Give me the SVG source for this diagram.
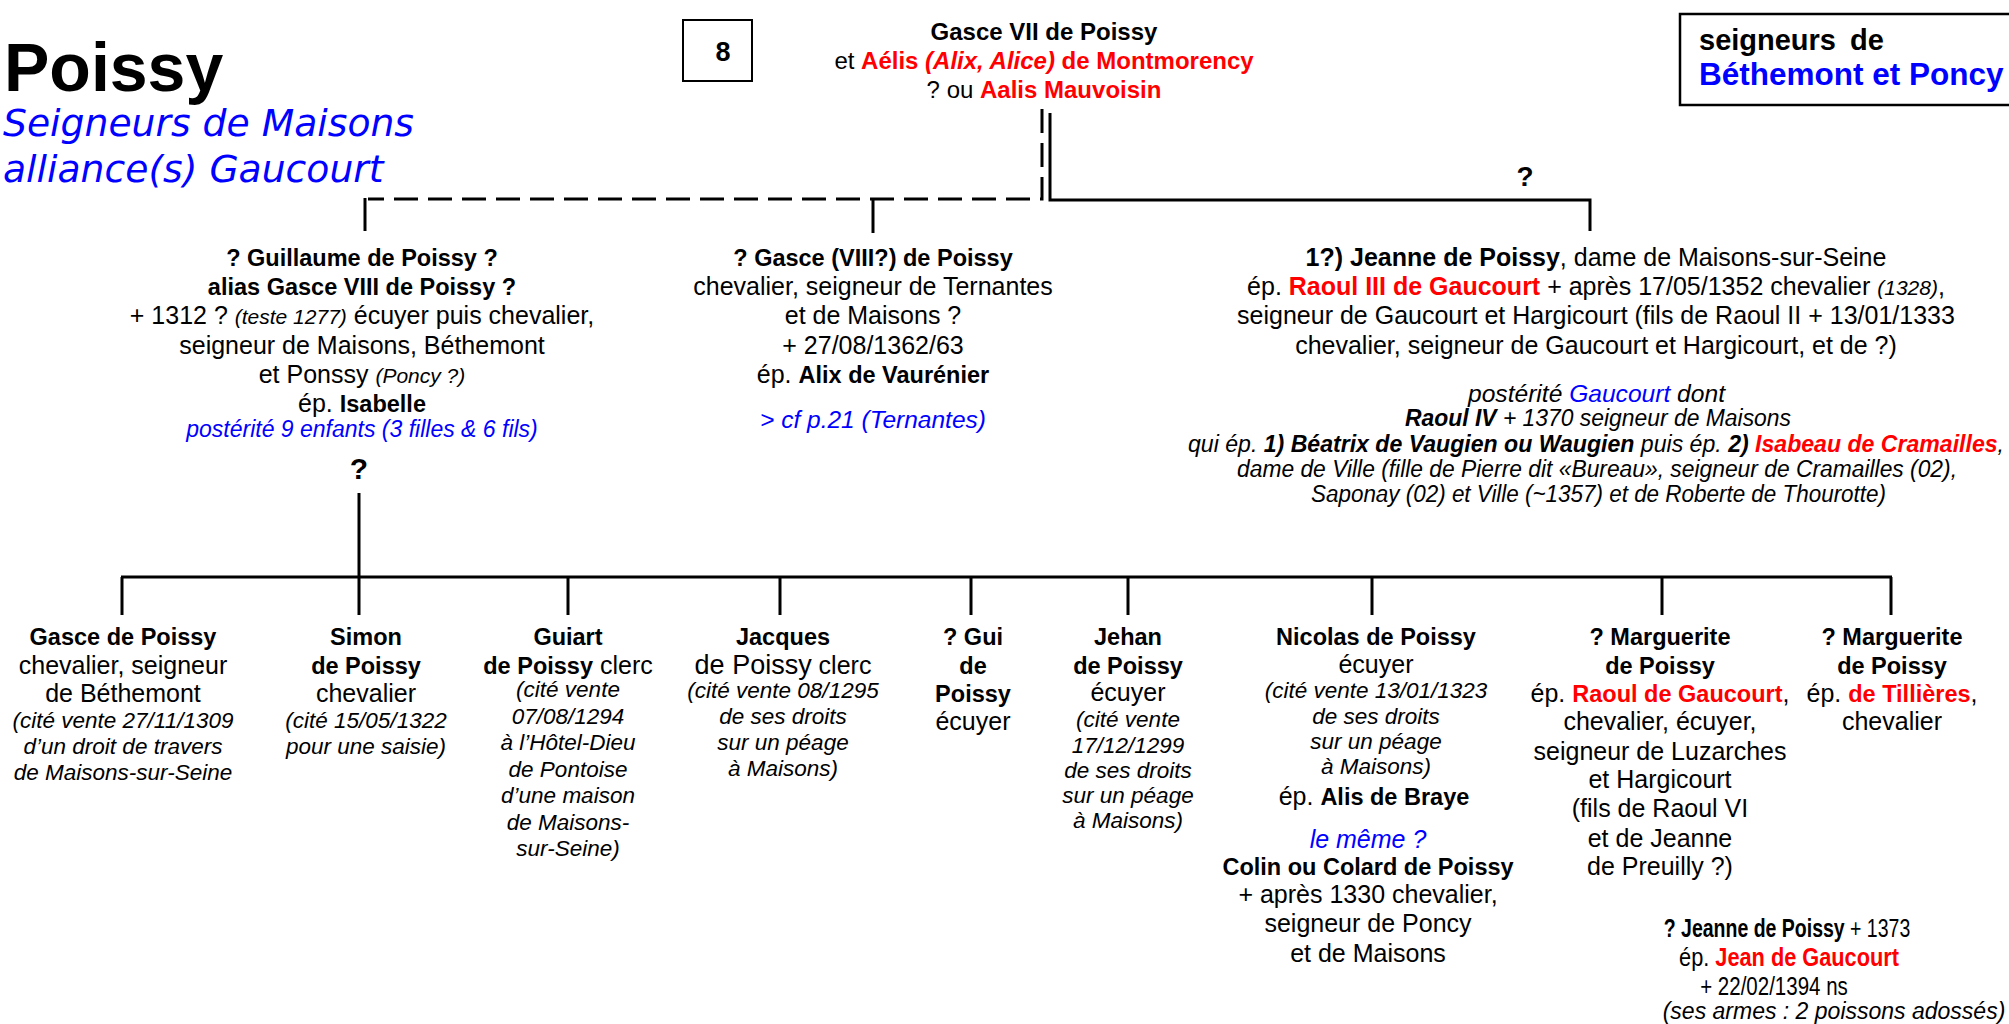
<svg xmlns="http://www.w3.org/2000/svg" width="2009" height="1024" viewBox="0 0 2009 1024">
<style>
.t{font-family:"Liberation Sans",Arial,sans-serif;font-size:25px;fill:#000;text-anchor:middle}
.b{font-weight:bold;font-size:23.5px}
.bj{font-weight:bold}
.i{font-style:italic}
.s{font-size:22.5px}
.si{font-size:21px}
.r{fill:#f00}
.bl{fill:#00f}
.ln{fill:none;stroke:#000;stroke-width:3}
.dash{stroke-dasharray:24 10}
.box{fill:#fff;stroke:#000;stroke-width:2}
.sub{font-family:"DejaVu Sans",Verdana,sans-serif;font-style:italic;font-size:37.7px;fill:#00f}
</style>
<rect width="2009" height="1024" fill="#fff"/>

<g id="title">
<text x="4" y="91" style="font-family:'Liberation Sans',Arial,sans-serif;font-weight:bold;font-size:68px">Poissy</text>
<text class="sub" x="3" y="136">Seigneurs de Maisons</text>
<text class="sub" x="3" y="182">alliance(s) Gaucourt</text>
</g>

<g id="page-number">
<rect class="box" x="683" y="20" width="69" height="61"/>
<text class="t bj" x="723" y="61" style="font-size:27px">8</text>
</g>

<g id="legend-box">
<rect class="box" x="1680" y="14" width="360" height="91" style="stroke-width:2.5"/>
<text class="t bj" x="1699" y="50" style="text-anchor:start;font-size:29px">seigneurs <tspan dx="6">de</tspan></text>
<text class="t bj bl" x="1699" y="85" style="text-anchor:start;font-size:31.5px">Béthemont et Poncy</text>
</g>

<g id="connectors">
<path class="ln dash" d="M1042,109 V199 H368"/>
<path class="ln" d="M365,198 V231"/>
<path class="ln" d="M873,199 V233"/>
<path class="ln" d="M1050,113 V200 H1590 V231"/>
<path class="ln" d="M359,493 V577"/>
<path class="ln" d="M121,577 H1892"/>
<path class="ln" d="M122,577 V615 M359,577 V615 M568,577 V615 M780,577 V615 M971,577 V615 M1128,577 V615 M1372,577 V615 M1662,577 V615 M1891,577 V615"/>
<text class="t bj" x="1525" y="186" style="font-size:28px">?</text>
<text class="t bj" x="359" y="479" style="font-size:30px">?</text>
</g>

<g id="n-gasce7" style="font-size:24px">
<text class="t bj" x="1044" y="40" style="font-size:24px">Gasce VII de Poissy</text>
<text class="t" x="1044" y="69" style="font-size:24px">et <tspan class="bj r">Aélis <tspan class="i">(Alix, Alice)</tspan> de Montmorency</tspan></text>
<text class="t" x="1044" y="98" style="font-size:24px">? ou <tspan class="bj r">Aalis Mauvoisin</tspan></text>
</g>

<g id="n-guillaume">
<text class="t b" x="362" y="266">? Guillaume de Poissy ?</text>
<text class="t b" x="362" y="295">alias Gasce VIII de Poissy ?</text>
<text class="t" x="362" y="324">+ 1312 ? <tspan class="i si">(teste 1277)</tspan> écuyer puis chevalier,</text>
<text class="t" x="362" y="354">seigneur de Maisons, Béthemont</text>
<text class="t" x="362" y="383">et Ponssy <tspan class="i si">(Poncy ?)</tspan></text>
<text class="t" x="362" y="412">ép. <tspan class="b">Isabelle</tspan></text>
<text class="t i bl" x="362" y="437" style="font-size:23px">postérité 9 enfants (3 filles &amp; 6 fils)</text>
</g>

<g id="n-gasce8">
<text class="t b" x="873" y="266">? Gasce (VIII?) de Poissy</text>
<text class="t" x="873" y="295">chevalier, seigneur de Ternantes</text>
<text class="t" x="873" y="324">et de Maisons ?</text>
<text class="t" x="873" y="354">+ 27/08/1362/63</text>
<text class="t" x="873" y="383">ép. <tspan class="b">Alix de Vaurénier</tspan></text>
<text class="t i bl" x="873" y="428" style="font-size:24.5px">&gt; cf p.21 (Ternantes)</text>
</g>

<g id="n-jeanne">
<text class="t" x="1596" y="266"><tspan class="bj">1?) Jeanne de Poissy</tspan>, dame de Maisons-sur-Seine</text>
<text class="t" x="1596" y="295">ép. <tspan class="bj r">Raoul III de Gaucourt</tspan> + après 17/05/1352 chevalier <tspan class="i si">(1328)</tspan>,</text>
<text class="t" x="1596" y="324">seigneur de Gaucourt et Hargicourt (fils de Raoul II + 13/01/1333</text>
<text class="t" x="1596" y="354">chevalier, seigneur de Gaucourt et Hargicourt, et de ?)</text>
<text class="t i" x="1468" y="402" style="text-anchor:start;font-size:24px" textLength="257" lengthAdjust="spacingAndGlyphs">postérité <tspan class="bl">Gaucourt</tspan> dont</text>
<text class="t i" x="1405" y="426" style="text-anchor:start;font-size:23px" textLength="386" lengthAdjust="spacingAndGlyphs"><tspan class="bj">Raoul IV</tspan> + 1370 seigneur de Maisons</text>
<text class="t i" x="1188" y="452" style="text-anchor:start;font-size:23px" textLength="816" lengthAdjust="spacingAndGlyphs">qui ép. <tspan class="bj">1) Béatrix de Vaugien ou Waugien</tspan> puis ép. <tspan class="bj">2) <tspan class="r">Isabeau de Cramailles</tspan></tspan>,</text>
<text class="t i" x="1237" y="477" style="text-anchor:start;font-size:23px" textLength="720" lengthAdjust="spacingAndGlyphs">dame de Ville (fille de Pierre dit «Bureau», seigneur de Cramailles (02),</text>
<text class="t i" x="1311" y="502" style="text-anchor:start;font-size:23px" textLength="575" lengthAdjust="spacingAndGlyphs">Saponay (02) et Ville (~1357) et de Roberte de Thourotte)</text>
</g>

<g id="c-gasce">
<text class="t b" x="123" y="645">Gasce de Poissy</text>
<text class="t" x="123" y="674">chevalier, seigneur</text>
<text class="t" x="123" y="702">de Béthemont</text>
<text class="t i s" x="123" y="728">(cité vente 27/11/1309</text>
<text class="t i s" x="123" y="754">d’un droit de travers</text>
<text class="t i s" x="123" y="780">de Maisons-sur-Seine</text>
</g>

<g id="c-simon">
<text class="t b" x="366" y="645">Simon</text>
<text class="t b" x="366" y="674">de Poissy</text>
<text class="t" x="366" y="702">chevalier</text>
<text class="t i s" x="366" y="728">(cité 15/05/1322</text>
<text class="t i s" x="366" y="754">pour une saisie)</text>
</g>

<g id="c-guiart">
<text class="t b" x="568" y="645">Guiart</text>
<text class="t" x="568" y="674"><tspan class="b">de Poissy</tspan> clerc</text>
<text class="t i s" x="568" y="697">(cité vente</text>
<text class="t i s" x="568" y="724">07/08/1294</text>
<text class="t i s" x="568" y="750">à l’Hôtel-Dieu</text>
<text class="t i s" x="568" y="777">de Pontoise</text>
<text class="t i s" x="568" y="803">d’une maison</text>
<text class="t i s" x="568" y="830">de Maisons-</text>
<text class="t i s" x="568" y="856">sur-Seine)</text>
</g>

<g id="c-jacques">
<text class="t b" x="783" y="645">Jacques</text>
<text class="t" x="783" y="674"><tspan style="font-size:27px">de Poissy</tspan> clerc</text>
<text class="t i s" x="783" y="698">(cité vente 08/1295</text>
<text class="t i s" x="783" y="724">de ses droits</text>
<text class="t i s" x="783" y="750">sur un péage</text>
<text class="t i s" x="783" y="776">à Maisons)</text>
</g>

<g id="c-gui">
<text class="t b" x="973" y="645">? Gui</text>
<text class="t b" x="973" y="674">de</text>
<text class="t b" x="973" y="702">Poissy</text>
<text class="t" x="973" y="730">écuyer</text>
</g>

<g id="c-jehan">
<text class="t b" x="1128" y="645">Jehan</text>
<text class="t b" x="1128" y="674">de Poissy</text>
<text class="t" x="1128" y="701">écuyer</text>
<text class="t i s" x="1128" y="727">(cité vente</text>
<text class="t i s" x="1128" y="753">17/12/1299</text>
<text class="t i s" x="1128" y="778">de ses droits</text>
<text class="t i s" x="1128" y="803">sur un péage</text>
<text class="t i s" x="1128" y="828">à Maisons)</text>
</g>

<g id="c-nicolas">
<text class="t b" x="1376" y="645">Nicolas de Poissy</text>
<text class="t" x="1376" y="673">écuyer</text>
<text class="t i s" x="1376" y="698">(cité vente 13/01/1323</text>
<text class="t i s" x="1376" y="724">de ses droits</text>
<text class="t i s" x="1376" y="749">sur un péage</text>
<text class="t i s" x="1376" y="774">à Maisons)</text>
<text class="t" x="1374" y="805">ép. <tspan class="b">Alis de Braye</tspan></text>
<text class="t i bl" x="1368" y="848">le même ?</text>
<text class="t b" x="1368" y="875">Colin ou Colard de Poissy</text>
<text class="t" x="1368" y="903">+ après 1330 chevalier,</text>
<text class="t" x="1368" y="932">seigneur de Poncy</text>
<text class="t" x="1368" y="962">et de Maisons</text>
</g>

<g id="c-marguerite1">
<text class="t b" x="1660" y="645">? Marguerite</text>
<text class="t b" x="1660" y="674">de Poissy</text>
<text class="t" x="1660" y="702">ép. <tspan class="b r">Raoul de Gaucourt</tspan>,</text>
<text class="t" x="1660" y="730">chevalier, écuyer,</text>
<text class="t" x="1660" y="760">seigneur de Luzarches</text>
<text class="t" x="1660" y="788">et Hargicourt</text>
<text class="t" x="1660" y="817">(fils de Raoul VI</text>
<text class="t" x="1660" y="847">et de Jeanne</text>
<text class="t" x="1660" y="875">de Preuilly ?)</text>
</g>

<g id="c-marguerite2">
<text class="t b" x="1892" y="645">? Marguerite</text>
<text class="t b" x="1892" y="674">de Poissy</text>
<text class="t" x="1892" y="702">ép. <tspan class="b r">de Tillières</tspan>,</text>
<text class="t" x="1892" y="730">chevalier</text>
</g>

<g id="c-jeanne2">
<text class="t" transform="translate(1787,937) scale(0.78,1)" x="0" y="0"><tspan class="bj">? Jeanne de Poissy</tspan> + 1373</text>
<text class="t" transform="translate(1789,966) scale(0.87,1)" x="0" y="0">ép. <tspan class="bj r">Jean de Gaucourt</tspan></text>
<text class="t" transform="translate(1774,995) scale(0.82,1)" x="0" y="0">+ 22/02/1394 ns</text>
<text class="t i" x="1834" y="1019" style="font-size:23px">(ses armes : 2 poissons adossés)</text>
</g>
</svg>
